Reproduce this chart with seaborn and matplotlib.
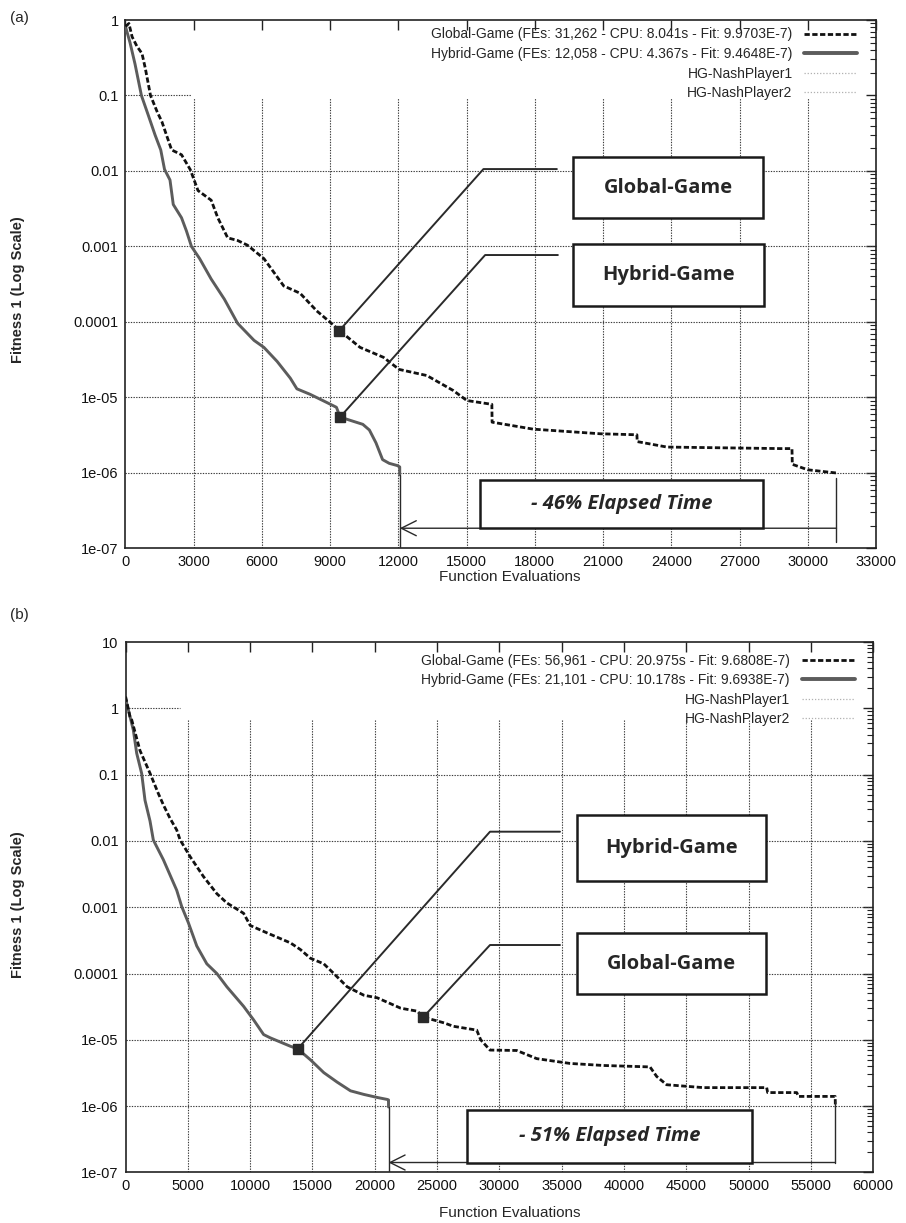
import numpy as np
import matplotlib
matplotlib.use("Agg")
import matplotlib.pyplot as plt
import seaborn as sns
from matplotlib.lines import Line2D
from matplotlib.patches import Rectangle
from matplotlib.ticker import FixedLocator, FixedFormatter, LogLocator, NullFormatter

sns.set_theme(style="white")
plt.rcParams['font.family'] = ['Liberation Sans', 'DejaVu Sans']

# ---------------- panel (a) ----------------
ga_fe_a = [0, 150, 290, 500, 725, 870, 1100, 1400, 1600, 1800, 2029, 2464, 2850, 3188,
           3768, 4058, 4493, 4928, 5362, 6087, 6956, 7677, 8410, 9070, 9405, 10315, 11341,
           12031, 13250, 14420, 15009, 16109, 16120, 17926, 20873, 22487, 22500, 23807,
           28790, 29305, 29320, 30000, 31262]
ga_fit_a = [0.82, 0.9, 0.6, 0.45, 0.36, 0.23, 0.1, 0.06, 0.045, 0.03, 0.019, 0.0164, 0.0104,
            0.0055, 0.0041, 0.0024, 0.0013, 0.0012, 0.00104, 6.9e-4, 3.0e-4, 2.4e-4,
            1.4e-4, 9.5e-5, 7.7e-5, 4.6e-5, 3.4e-5, 2.35e-5, 1.95e-5, 1.23e-5, 9.1e-6,
            8.1e-6, 4.7e-6, 3.8e-6, 3.3e-6, 3.2e-6, 2.6e-6, 2.2e-6, 2.1e-6, 2.1e-6,
            1.3e-6, 1.1e-6, 9.9703e-7]

hg_fe_a = [0, 200, 420, 700, 1000, 1300, 1550, 1716, 1956, 2100, 2463, 2681, 2900,
           3260, 3768, 4348, 4928, 5652, 6087, 6666, 7246, 7536, 8116, 8840, 9275, 9437,
           9855, 10435, 10724, 11014, 11304, 11594, 11957, 12058, 12058]
hg_fit_a = [0.82, 0.5, 0.26, 0.1, 0.055, 0.03, 0.019, 0.0105, 0.0076, 0.0036,
            0.0024, 0.0016, 0.001, 6.9e-4, 3.7e-4, 2.0e-4, 9.6e-5, 5.7e-5, 4.6e-5, 3.0e-5,
            1.8e-5, 1.3e-5, 1.1e-5, 8.6e-6, 7.4e-6, 5.5e-6, 5.0e-6, 4.4e-6, 3.7e-6, 2.5e-6,
            1.5e-6, 1.34e-6, 1.25e-6, 1.2e-6, 9.4648e-7]

labels_a = ["Global-Game (FEs: 31,262 - CPU: 8.041s - Fit: 9.9703E-7)",
            "Hybrid-Game (FEs: 12,058 - CPU: 4.367s - Fit: 9.4648E-7)",
            "HG-NashPlayer1", "HG-NashPlayer2"]
xticks_a = list(range(0, 33001, 3000))
yticks_a = [1e-7, 1e-6, 1e-5, 1e-4, 1e-3, 1e-2, 1e-1, 1]
ylabels_a = ["1e-07", "1e-06", "1e-05", "0.0001", "0.001", "0.01", "0.1", "1"]
callouts_a = {"Global-Game": (9405, 7.7e-5), "Hybrid-Game": (9437, 5.5e-6)}
saving_a = "- 46% Elapsed Time"

# ---------------- panel (b) ----------------
ga_fe_b = [0, 350, 490, 1156, 1958, 2624, 3031, 3560, 4103, 4372, 5176, 6249, 7322, 8127,
           9468, 10004, 11345, 13222, 14026, 14831, 15904, 16709, 17782, 19123, 20196,
           22073, 23414, 23892, 25558, 26300, 28178, 28500, 29245, 31388, 32994, 35666,
           38340, 42087, 42622, 43424, 46364, 51450, 51530, 53860, 54000, 56950, 56961]
ga_fit_b = [1.5, 0.75, 0.67, 0.23, 0.105, 0.052, 0.035, 0.022, 0.0146, 0.0104, 0.0058,
            0.0029, 0.0016, 0.00116, 8.1e-4, 5.3e-4, 4.1e-4, 2.9e-4, 2.3e-4, 1.7e-4,
            1.4e-4, 1.0e-4, 6.3e-5, 4.7e-5, 4.3e-5, 3.0e-5, 2.7e-5, 2.2e-5, 1.8e-5, 1.6e-5,
            1.4e-5, 1.0e-5, 7.0e-6, 6.9e-6, 5.2e-6, 4.4e-6, 4.1e-6, 3.9e-6, 2.8e-6, 2.1e-6,
            1.9e-6, 1.9e-6, 1.6e-6, 1.6e-6, 1.4e-6, 1.4e-6, 9.6808e-7]

hg_fe_b = [0, 620, 890, 1290, 1557, 1958, 2226, 3031, 4103, 4506, 5042, 5712, 6517, 7322,
           8127, 9468, 10272, 11077, 11613, 13222, 13812, 14831, 15904, 16977, 18050,
           19123, 20196, 21000, 21101, 21101]
hg_fit_b = [1.4, 0.47, 0.21, 0.104, 0.041, 0.02, 0.0103, 0.0052, 0.0018, 0.00102, 5.8e-4,
            2.6e-4, 1.4e-4, 1.0e-4, 6.3e-5, 3.2e-5, 2.0e-5, 1.2e-5, 1.07e-5, 8.0e-6, 7.3e-6,
            5.0e-6, 3.2e-6, 2.3e-6, 1.7e-6, 1.5e-6, 1.35e-6, 1.26e-6, 1.24e-6, 9.6938e-7]

labels_b = ["Global-Game (FEs: 56,961 - CPU: 20.975s - Fit: 9.6808E-7)",
            "Hybrid-Game (FEs: 21,101 - CPU: 10.178s - Fit: 9.6938E-7)",
            "HG-NashPlayer1", "HG-NashPlayer2"]
xticks_b = list(range(0, 60001, 5000))
yticks_b = [1e-7, 1e-6, 1e-5, 1e-4, 1e-3, 1e-2, 1e-1, 1, 10]
ylabels_b = ["1e-07", "1e-06", "1e-05", "0.0001", "0.001", "0.01", "0.1", "1", "10"]
callouts_b = {"Hybrid-Game": (13812, 7.3e-6), "Global-Game": (23892, 2.2e-5)}
saving_b = "- 51% Elapsed Time"

GRID = dict(color="#3a3a3a", lw=0.8, linestyle=(0, (1.2, 1.2)), zorder=1)
BOX_FONT = ['Open Sans', 'Lato', 'DejaVu Sans']
TICK_FONT = ['Liberation Sans', 'DejaVu Sans']


def draw_panel(ax, ga_fe, ga_fit, hg_fe, hg_fit, labels, key_top, xticks, yticks, ylabels,
               key_corner, callouts, elbow, boxes, saving, saving_box, arrow_y, right_drop):
    xmax = xticks[-1]
    ax.set_yscale("log")
    ax.set_xlim(0, xmax)
    ax.set_ylim(yticks[0], yticks[-1])

    # dotted grid, kept clear of the key area in the upper right
    key_x, key_y = key_corner
    for y in yticks[1:-1]:
        if y < key_y:
            ax.hlines(y, 0, xmax, **GRID)
        else:
            ax.hlines(y, 0, key_x, **GRID)
    for x in xticks[1:-1]:
        ax.vlines(x, yticks[0], key_y * 0.93 if key_y < 1 else key_y * 0.66, **GRID)

    sns.lineplot(x=ga_fe, y=ga_fit, ax=ax, estimator=None, sort=False, color="#111111",
                 lw=2.0, linestyle=(0, (1.9, 0.9)), zorder=4, legend=False)
    sns.lineplot(x=hg_fe, y=hg_fit, ax=ax, estimator=None, sort=False, color="#5c5c5c",
                 lw=2.1, zorder=3, legend=False)

    handles = [Line2D([], [], color="#111111", lw=2.0, linestyle=(0, (1.9, 0.9))),
               Line2D([], [], color="#5c5c5c", lw=2.8),
               Line2D([], [], color="#b0b0b0", lw=0.9, linestyle=(0, (1, 1.5))),
               Line2D([], [], color="#b0b0b0", lw=0.9, linestyle=(0, (1, 1.5)))]
    ax.legend(handles, labels, loc="upper right", bbox_to_anchor=(0.975, key_top),
              markerfirst=False, frameon=False, fontsize=10, handlelength=3.8,
              handletextpad=0.85, labelspacing=0.4, borderpad=0, borderaxespad=0)

    # callouts: marker, leader line and labelled box
    for name, (px, py) in callouts.items():
        (ex, ey), hx = elbow[name]
        ax.plot([px, ex, hx], [py, ey, ey], color="#2a2a2a", lw=1.4, zorder=5)
        ax.plot([px], [py], marker="s", ms=7, color="#2a2a2a", zorder=6)
        x0, y0, x1, y1 = boxes[name]
        ax.add_patch(Rectangle((x0, y0), x1 - x0, y1 - y0, transform=ax.transAxes,
                               facecolor="white", edgecolor="#1a1a1a", lw=1.8, zorder=7))
        ax.text((x0 + x1) / 2, (y0 + y1) / 2, name, transform=ax.transAxes, ha="center",
                va="center", fontsize=14.5, weight="bold", family=BOX_FONT, zorder=8)

    # elapsed-time comparison arrow
    ga_end, hg_end = ga_fe[-1], hg_fe[-1]
    ax.plot([hg_end, hg_end], [hg_fit[-1], yticks[0]], color="#2a2a2a", lw=1.0, zorder=5)
    ax.plot([ga_end, ga_end], right_drop, color="#2a2a2a", lw=1.0, zorder=5)
    ax.annotate("", xy=(hg_end, arrow_y), xytext=(ga_end, arrow_y),
                arrowprops=dict(arrowstyle="->,head_length=0.9,head_width=0.45",
                                lw=1.0, color="#2a2a2a", shrinkA=0, shrinkB=0), zorder=5)
    x0, y0, x1, y1 = saving_box
    ax.add_patch(Rectangle((x0, y0), x1 - x0, y1 - y0, transform=ax.transAxes,
                           facecolor="white", edgecolor="#1a1a1a", lw=1.8, zorder=7))
    ax.text((x0 + x1) / 2, (y0 + y1) / 2, saving, transform=ax.transAxes, ha="center",
            va="center", fontsize=14.5, weight="bold", style="italic", family=BOX_FONT,
            zorder=8)

    # axes, ticks and labels
    ax.xaxis.set_major_locator(FixedLocator(xticks))
    ax.set_xticklabels([str(t) for t in xticks], family=TICK_FONT, fontsize=10.5)
    ax.yaxis.set_major_locator(FixedLocator(yticks))
    ax.yaxis.set_major_formatter(FixedFormatter(ylabels))
    ax.yaxis.set_minor_locator(LogLocator(base=10, subs=np.arange(2, 10)))
    ax.yaxis.set_minor_formatter(NullFormatter())
    for t in ax.get_yticklabels():
        t.set_family(TICK_FONT)
        t.set_fontsize(10.5)
    ax.tick_params(which="both", direction="in", top=True, right=True, color="#222222",
                   labelcolor="#111111")
    ax.tick_params(which="major", length=7, width=1.0, pad=5)
    ax.tick_params(which="minor", length=4, width=0.8)
    for s in ax.spines.values():
        s.set_color("#222222")
        s.set_linewidth(1.2)
    ax.set_xlabel("")
    ax.set_ylabel("")


fig = plt.figure(figsize=(9.06, 12.23), dpi=100)
ax_a = fig.add_axes([0.13852, 0.55160, 0.82837, 0.43204])
ax_b = fig.add_axes([0.13863, 0.04137, 0.82517, 0.43369])

draw_panel(ax_a, ga_fe_a, ga_fit_a, hg_fe_a, hg_fit_a, labels_a, 0.986, xticks_a, yticks_a,
           ylabels_a, key_corner=(2900, 0.1), callouts=callouts_a,
           elbow={"Global-Game": ((15739, 0.0106), 18968),
                  "Hybrid-Game": ((15814, 7.7e-4), 19012)},
           boxes={"Global-Game": (0.5959, 0.6254, 0.8498, 0.7400),
                  "Hybrid-Game": (0.5967, 0.4592, 0.8512, 0.5752)},
           saving=saving_a, saving_box=(0.4724, 0.0382, 0.8498, 0.1303),
           arrow_y=1.85e-7, right_drop=(8.6e-7, 1.23e-7))

draw_panel(ax_b, ga_fe_b, ga_fit_b, hg_fe_b, hg_fit_b, labels_b, 0.978, xticks_b, yticks_b,
           ylabels_b, key_corner=(4400, 1.0), callouts=callouts_b,
           elbow={"Hybrid-Game": ((29246, 0.01377), 34864),
                  "Global-Game": ((29246, 2.69e-4), 34864)},
           boxes={"Hybrid-Game": (0.6034, 0.5494, 0.8562, 0.6738),
                  "Global-Game": (0.6034, 0.3364, 0.8562, 0.4508)},
           saving=saving_b, saving_box=(0.4571, 0.0185, 0.8379, 0.1182),
           arrow_y=1.41e-7, right_drop=(1.2e-6, 1.41e-7))

# panel tags and axis titles
fig.text(0.011, 0.985, "(a)", fontsize=11, va="center", ha="left")
fig.text(0.011, 0.497, "(b)", fontsize=11, va="center", ha="left")
fig.text(0.5627, 1 - 577 / 1223, "Function Evaluations", fontsize=11, ha="center",
         va="center", family=TICK_FONT)
fig.text(0.5627, 1 - 1213 / 1223, "Function Evaluations", fontsize=11, ha="center",
         va="center", family=TICK_FONT)
fig.text(0.02, 1 - 290 / 1223, "Fitness 1 (Log Scale)", fontsize=10.5, rotation=90,
         ha="center", va="center", weight="bold", family=TICK_FONT)
fig.text(0.02, 1 - 905 / 1223, "Fitness 1 (Log Scale)", fontsize=10.5, rotation=90,
         ha="center", va="center", weight="bold", family=TICK_FONT)

fig.savefig("out.png", dpi=100, facecolor="white")
